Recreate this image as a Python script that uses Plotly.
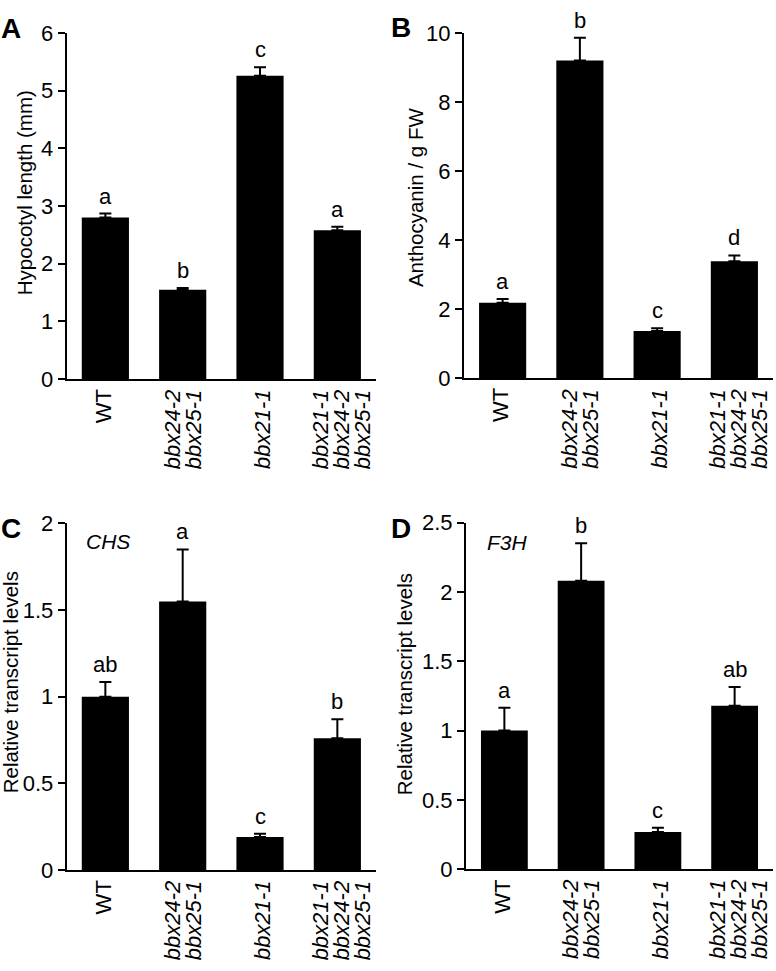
import plotly.graph_objects as go

categories = ["WT", "bbx24-2 bbx25-1", "bbx21-1", "bbx21-1 bbx24-2 bbx25-1"]
tick_label_lines = [["WT"], ["bbx24-2", "bbx25-1"], ["bbx21-1"], ["bbx21-1", "bbx24-2", "bbx25-1"]]
tick_label_italic = [False, True, True, True]

hypocotyl_mean = [2.80, 1.55, 5.26, 2.58]
hypocotyl_err = [0.07, 0.03, 0.15, 0.06]
hypocotyl_letters = ["a", "b", "c", "a"]

anthocyanin_mean = [2.19, 9.21, 1.37, 3.39]
anthocyanin_err = [0.11, 0.66, 0.08, 0.17]
anthocyanin_letters = ["a", "b", "c", "d"]

chs_mean = [1.00, 1.55, 0.19, 0.76]
chs_err = [0.085, 0.30, 0.02, 0.11]
chs_letters = ["ab", "a", "c", "b"]

f3h_mean = [1.00, 2.08, 0.27, 1.18]
f3h_err = [0.165, 0.27, 0.03, 0.135]
f3h_letters = ["a", "b", "c", "ab"]

W, H = 776, 971
FONT = "Liberation Sans, Arial, sans-serif"
FS_TICK = 22
FS_TITLE = 20.5
LABEL_SHIFT = [-2, 0, 2, 4]   # px shift of each category label block
LINE_GAP = 21                 # px between label lines

panels = [
    dict(mean=hypocotyl_mean, err=hypocotyl_err, letters=hypocotyl_letters,
         x=(66.7, 376), y=(21.7, 376.7), yr=[0, 6], dt=1,
         title="Hypocotyl length (mm)", tx=24, ty=186, label="A", lx=11, ly=17, gene=None),
    dict(mean=anthocyanin_mean, err=anthocyanin_err, letters=anthocyanin_letters,
         x=(464, 773), y=(21.7, 376), yr=[0, 10], dt=2,
         title="Anthocyanin / g FW", tx=415, ty=190, label="B", lx=401, ly=16, gene=None),
    dict(mean=chs_mean, err=chs_err, letters=chs_letters,
         x=(66.7, 376), y=(525, 880.7), yr=[0, 2], dt=0.5,
         title="Relative transcript levels", tx=10, ty=688, label="C", lx=11, ly=530,
         gene=("CHS", 108, 544)),
    dict(mean=f3h_mean, err=f3h_err, letters=f3h_letters,
         x=(466, 773), y=(524, 880), yr=[0, 2.5], dt=0.5,
         title="Relative transcript levels", tx=404, ty=690, label="D", lx=401, ly=530,
         gene=("F3H", 507, 545)),
]

fig = go.Figure()
annotations = []
layout = {}
for i, p in enumerate(panels, start=1):
    xa = "x" if i == 1 else f"x{i}"
    ya = "y" if i == 1 else f"y{i}"
    fig.add_trace(go.Bar(
        x=list(range(4)), y=p["mean"], width=0.61,
        marker=dict(color="black", line=dict(width=0)),
        error_y=dict(type="data", symmetric=False, array=p["err"],
                     arrayminus=[0] * 4, color="black", thickness=2, width=6),
        xaxis=xa, yaxis=ya, showlegend=False, hoverinfo="skip",
    ))
    layout[f"xaxis{'' if i == 1 else i}"] = dict(
        domain=[p["x"][0] / W, p["x"][1] / W], range=[-0.5, 3.5],
        tickvals=list(range(4)), showticklabels=False,
        showline=True, linecolor="black", linewidth=2, ticks="",
        showgrid=False, zeroline=False, fixedrange=True, anchor=ya,
    )
    layout[f"yaxis{'' if i == 1 else i}"] = dict(
        domain=[1 - p["y"][1] / H, 1 - p["y"][0] / H], range=p["yr"],
        dtick=p["dt"], tick0=0, showline=True, linecolor="black", linewidth=2,
        ticks="outside", ticklen=7, tickwidth=2, tickcolor="black",
        showgrid=False, zeroline=False, anchor=xa, fixedrange=True,
        tickfont=dict(family=FONT, size=FS_TICK, color="black"),
    )
    # category labels (rotated, one annotation per line)
    for j, lines in enumerate(tick_label_lines):
        n = len(lines)
        for k, line in enumerate(lines):
            txt = f"<i>{line}</i>" if tick_label_italic[j] else line
            annotations.append(dict(
                x=j, y=0, xref=xa, yref=f"{ya} domain", text=txt, textangle=-90,
                showarrow=False, xanchor="center", yanchor="top",
                xshift=LABEL_SHIFT[j] + (k - (n - 1) / 2) * LINE_GAP, yshift=-8,
                font=dict(family=FONT, size=FS_TICK, color="black"),
            ))
    # significance letters
    for j in range(4):
        annotations.append(dict(
            x=j, y=p["mean"][j] + p["err"][j], xref=xa, yref=ya,
            text=p["letters"][j], showarrow=False, yanchor="bottom", yshift=3,
            font=dict(family=FONT, size=FS_TICK, color="black"),
        ))
    annotations.append(dict(
        x=p["tx"] / W, y=1 - p["ty"] / H, xref="paper", yref="paper",
        text=p["title"], textangle=-90, showarrow=False, xanchor="center", yanchor="middle",
        font=dict(family=FONT, size=FS_TITLE, color="black"),
    ))
    annotations.append(dict(
        x=p["lx"] / W, y=1 - p["ly"] / H, xref="paper", yref="paper",
        text=f"<b>{p['label']}</b>", showarrow=False, xanchor="center", yanchor="middle",
        font=dict(family=FONT, size=28, color="black"),
    ))
    if p["gene"]:
        g, gx, gy = p["gene"]
        annotations.append(dict(
            x=gx / W, y=1 - gy / H, xref="paper", yref="paper",
            text=f"<i>{g}</i>", showarrow=False, xanchor="center", yanchor="middle",
            font=dict(family=FONT, size=21, color="black"),
        ))

fig.update_layout(
    width=W, height=H, margin=dict(l=0, r=0, t=0, b=0),
    plot_bgcolor="white", paper_bgcolor="white",
    annotations=annotations, **layout,
)
fig.write_html("out.html", config={"displayModeBar": False},
               post_script="document.body.style.margin='0px';document.body.style.overflow='hidden';")
